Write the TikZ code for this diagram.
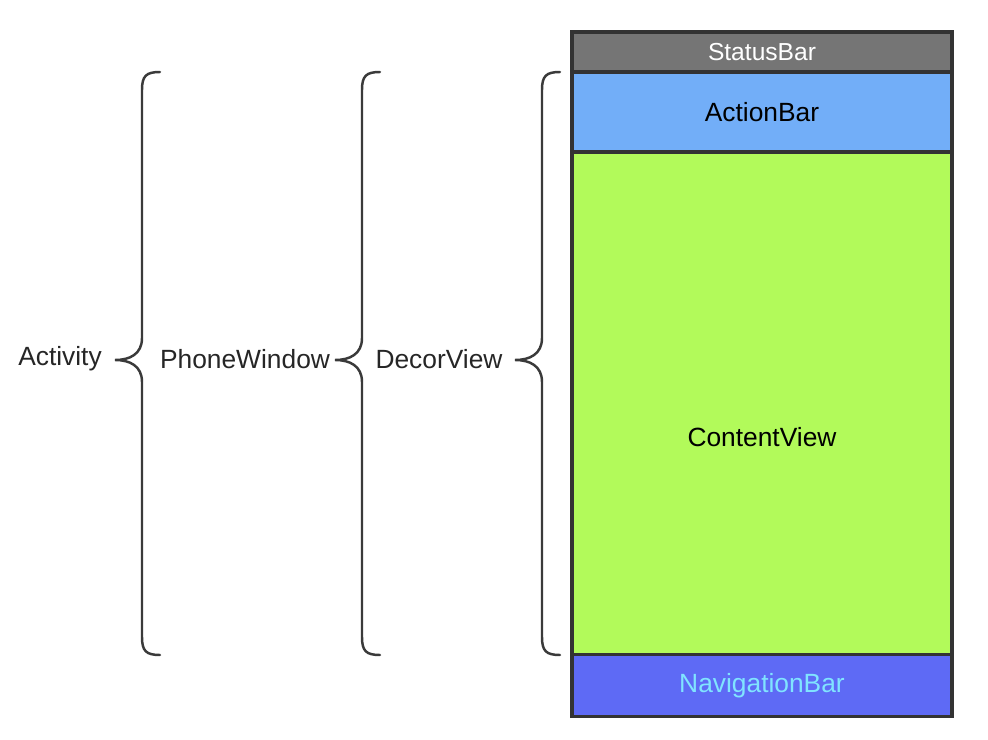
\documentclass[tikz,border=0pt]{standalone}
\usepackage{fontspec}
\setmainfont{Liberation Sans}
\usetikzlibrary{positioning}
\definecolor{framegray}{HTML}{333333}
\definecolor{bracegray}{HTML}{3A3A3A}
\definecolor{statusgray}{HTML}{757575}
\definecolor{actionblue}{HTML}{72AEF8}
\definecolor{contentgreen}{HTML}{B2FA5A}
\definecolor{navblue}{HTML}{5E6AF5}
\definecolor{navtext}{HTML}{80E4FF}
\begin{document}
\begin{tikzpicture}[x=0.02cm,y=-0.02cm,bar/.style={draw=framegray,line width=1.8pt,minimum width=7.6cm,inner sep=0,outer sep=0,font=\fontsize{15}{18}\selectfont},brace/.style={draw=bracegray,line width=1.4pt,line cap=round},lbl/.style={font=\fontsize{15}{18}\selectfont,text=black!85}]
\useasboundingbox (0,0) rectangle (988,740);

% screen parts, top to bottom
\node[bar,fill=statusgray,text=white,minimum height=0.8cm,anchor=north,font=\fontsize{14}{17}\selectfont] (status) at (762,32) {StatusBar};
\node[bar,fill=actionblue,minimum height=1.6cm,below=0pt of status] (action) {ActionBar};
\node[bar,fill=contentgreen,minimum height=10.06cm,below=0pt of action] (content) {};
\node[bar,fill=navblue,text=navtext,minimum height=1.24cm,below=0pt of content] (nav) {NavigationBar};
\node[font=\fontsize{15}{18}\selectfont] (contenttxt) at ([yshift=-0.68cm]content.center) {ContentView};

% braces
\foreach \xb in {160,380,560}{
  \draw[brace] (\xb,72) .. controls (\xb-14,72) and (\xb-18,76) .. (\xb-18,90) -- (\xb-18,338)
    .. controls (\xb-18,354) and (\xb-30,360) .. (\xb-45,360)
    .. controls (\xb-30,360) and (\xb-18,366) .. (\xb-18,382) -- (\xb-18,637)
    .. controls (\xb-18,651) and (\xb-14,655) .. (\xb,655);
}

\node[lbl] (activity) at (60,359) {Activity};
\node[lbl] (phonewin) at (245,359) {PhoneWindow};
\node[lbl] (decor) at (439,359) {DecorView};
\end{tikzpicture}
\end{document}
